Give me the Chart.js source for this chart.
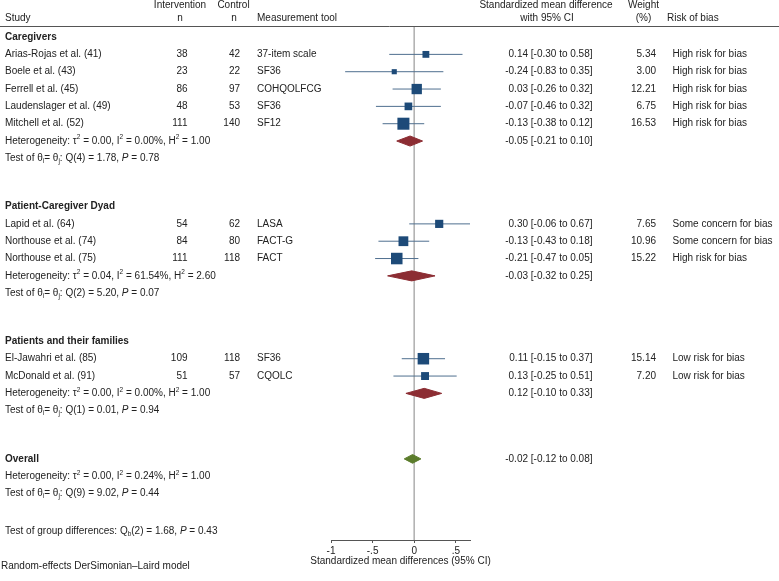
<!DOCTYPE html>
<html lang="en">
<head>
    <meta charset="UTF-8">
    <title>Forest plot - quality of life</title>
    <style>
        body {
            margin: 0;
            background: #fff;
        }
        #box {
            width: 779px;
            height: 581px;
        }
    </style>
    <script src="https://cdn.jsdelivr.net/npm/chart.js@4"></script>
</head>
<body>

<div id="box"><canvas id="forest" width="779" height="581"></canvas></div>

<script>
    // ---- data ----
    const groups = ["Caregivers", "Patient-Caregiver Dyad", "Patients and their families"];

    const studies = [
        "Arias-Rojas et al. (41)", "Boele et al. (43)", "Ferrell et al. (45)", "Laudenslager et al. (49)", "Mitchell et al. (52)",
        "Lapid et al. (64)", "Northouse et al. (74)", "Northouse et al. (75)",
        "El-Jawahri et al. (85)", "McDonald et al. (91)"
    ];
    const studyGroup = [0, 0, 0, 0, 0, 1, 1, 1, 2, 2];
    const nIntervention = [38, 23, 86, 48, 111, 54, 84, 111, 109, 51];
    const nControl = [42, 22, 97, 53, 140, 62, 80, 118, 118, 57];
    const tools = ["37-item scale", "SF36", "COHQOLFCG", "SF36", "SF12", "LASA", "FACT-G", "FACT", "SF36", "CQOLC"];
    const smd = [0.14, -0.24, 0.03, -0.07, -0.13, 0.30, -0.13, -0.21, 0.11, 0.13];
    const ciLow = [-0.30, -0.83, -0.26, -0.46, -0.38, -0.06, -0.43, -0.47, -0.15, -0.25];
    const ciHigh = [0.58, 0.35, 0.32, 0.32, 0.12, 0.67, 0.18, 0.05, 0.37, 0.51];
    const weights = [5.34, 3.00, 12.21, 6.75, 16.53, 7.65, 10.96, 15.22, 15.14, 7.20];
    const bias = [
        "High risk for bias", "High risk for bias", "High risk for bias", "High risk for bias", "High risk for bias",
        "Some concern for bias", "Some concern for bias", "High risk for bias",
        "Low risk for bias", "Low risk for bias"
    ];

    const groupSmd = [-0.05, -0.03, 0.12];
    const groupLow = [-0.21, -0.32, -0.10];
    const groupHigh = [0.10, 0.25, 0.33];
    const groupHet = [
        "Heterogeneity: τ^{2} = 0.00, I^{2} = 0.00%, H^{2} = 1.00",
        "Heterogeneity: τ^{2} = 0.04, I^{2} = 61.54%, H^{2} = 2.60",
        "Heterogeneity: τ^{2} = 0.00, I^{2} = 0.00%, H^{2} = 1.00"
    ];
    const groupTest = [
        "Test of θ_{i}= θ_{j}: Q(4) = 1.78, /P/ = 0.78",
        "Test of θ_{i}= θ_{j}: Q(2) = 5.20, /P/ = 0.07",
        "Test of θ_{i}= θ_{j}: Q(1) = 0.01, /P/ = 0.94"
    ];

    const overall = [-0.02, -0.12, 0.08];   // estimate, low, high
    const overallHet = "Heterogeneity: τ^{2} = 0.00, I^{2} = 0.24%, H^{2} = 1.00";
    const overallTest = "Test of θ_{i}= θ_{j}: Q(9) = 9.02, /P/ = 0.44";
    const groupDiff = "Test of group differences: Q_{b}(2) = 1.68, /P/ = 0.43";

    const xTicks = [-1, -0.5, 0, 0.5];
    const xTickLabels = ["-1", "-.5", "0", ".5"];
    const xTitle = "Standardized mean differences (95% CI)";

    // ---- layout ----
    const FONT = '"Liberation Sans", Arial, Helvetica, sans-serif';
    const TEXT = "#222";
    const GROUP_GAP = 2.78;
    const DIFF_GAP = 2.2;

    // row number of every line, top to bottom
    const groupRow = [], studyRow = [], hetRow = [], testRow = [];
    let r = 0;
    groups.forEach((g, gi) => {
        groupRow.push(r);
        studyGroup.forEach((sg, i) => {
            if (sg === gi) {
                r += 1;
                studyRow[i] = r;
            }
        });
        hetRow.push(r + 1);
        testRow.push(r + 2);
        r += 2 + GROUP_GAP;
    });
    const overallRow = r;
    const diffRow = r + 2 + DIFF_GAP;

    const Y_MIN = -0.58;
    const Y_MAX = diffRow + 0.48;

    const fmt = v => v.toFixed(2);
    const ciText = (e, lo, hi) => `${fmt(e)} [${fmt(lo)} to ${fmt(hi)}]`;

    // small markup: ^{..} superscript, _{..} subscript, /../ italic
    function splitRich(str) {
        const parts = [];
        const re = /\^\{([^}]*)\}|_\{([^}]*)\}|\/([^\/]*)\//g;
        let last = 0, m;
        while ((m = re.exec(str)) !== null) {
            if (m.index > last) parts.push({ t: str.slice(last, m.index), k: "n" });
            if (m[1] !== undefined) parts.push({ t: m[1], k: "sup" });
            else if (m[2] !== undefined) parts.push({ t: m[2], k: "sub" });
            else parts.push({ t: m[3], k: "it" });
            last = re.lastIndex;
        }
        if (last < str.length) parts.push({ t: str.slice(last), k: "n" });
        return parts;
    }

    function fontFor(k, bold) {
        if (k === "sup" || k === "sub") return "6.5px " + FONT;
        if (k === "it") return "italic 10px " + FONT;
        return (bold ? "bold " : "") + "10px " + FONT;
    }

    function drawText(ctx, str, x, y, align, bold) {
        const parts = splitRich(String(str));
        let w = 0;
        parts.forEach(p => {
            ctx.font = fontFor(p.k, bold);
            p.w = ctx.measureText(p.t).width;
            w += p.w;
        });
        if (align === "right") x -= w;
        else if (align === "center") x -= w / 2;
        ctx.textAlign = "left";
        ctx.textBaseline = "middle";
        parts.forEach(p => {
            ctx.font = fontFor(p.k, bold);
            let dy = 0;
            if (p.k === "sup") dy = -3.5;
            if (p.k === "sub") dy = 2.5;
            ctx.fillText(p.t, x, y + dy);
            x += p.w;
        });
    }

    const textPlugin = {
        id: "forestText",
        afterDraw(chart) {
            const ctx = chart.ctx;
            const py = v => chart.scales.y.getPixelForValue(v);
            const area = chart.chartArea;
            ctx.save();
            ctx.fillStyle = TEXT;

            // column headers
            drawText(ctx, "Intervention", 180, 5, "center");
            drawText(ctx, "Control", 233.5, 5, "center");
            drawText(ctx, "Standardized mean difference", 546, 5, "center");
            drawText(ctx, "Weight", 643.5, 5, "center");
            drawText(ctx, "Study", 5, 18.5, "left");
            drawText(ctx, "n", 180, 18.5, "center");
            drawText(ctx, "n", 234, 18.5, "center");
            drawText(ctx, "Measurement tool", 257, 18.5, "left");
            drawText(ctx, "with 95% CI", 547, 18.5, "center");
            drawText(ctx, "(%)", 643.5, 18.5, "center");
            drawText(ctx, "Risk of bias", 667, 18.5, "left");

            ctx.strokeStyle = "#555";
            ctx.lineWidth = 1;
            ctx.beginPath();
            ctx.moveTo(0, 26.5);
            ctx.lineTo(chart.width, 26.5);
            ctx.stroke();

            groups.forEach((g, gi) => {
                drawText(ctx, g, 5, py(groupRow[gi]), "left", true);
                drawText(ctx, groupHet[gi], 5, py(hetRow[gi]), "left");
                drawText(ctx, groupTest[gi], 5, py(testRow[gi]), "left");
                drawText(ctx, ciText(groupSmd[gi], groupLow[gi], groupHigh[gi]), 592.5, py(hetRow[gi]), "right");
            });

            studies.forEach((s, i) => {
                const y = py(studyRow[i]);
                drawText(ctx, s, 5, y, "left");
                drawText(ctx, nIntervention[i], 187.5, y, "right");
                drawText(ctx, nControl[i], 240, y, "right");
                drawText(ctx, tools[i], 257, y, "left");
                drawText(ctx, ciText(smd[i], ciLow[i], ciHigh[i]), 592.5, y, "right");
                drawText(ctx, fmt(weights[i]), 656, y, "right");
                drawText(ctx, bias[i], 672.5, y, "left");
            });

            drawText(ctx, "Overall", 5, py(overallRow), "left", true);
            drawText(ctx, overallHet, 5, py(overallRow + 1), "left");
            drawText(ctx, overallTest, 5, py(overallRow + 2), "left");
            drawText(ctx, ciText(overall[0], overall[1], overall[2]), 592.5, py(overallRow), "right");
            drawText(ctx, groupDiff, 5, py(diffRow), "left");

            // axis title, centred under the axis without squeezing
            drawText(ctx, xTitle, (area.left + area.right) / 2, area.bottom + 21, "center");

            drawText(ctx, "Random-effects DerSimonian–Laird model", 1, 566, "left");
            ctx.restore();
        }
    };

    function diamond(est, lo, hi, y, half, color) {
        return {
            data: [{ x: lo, y: y }, { x: est, y: y - half }, { x: hi, y: y }, { x: est, y: y + half }, { x: lo, y: y }],
            showLine: true,
            fill: "shape",
            backgroundColor: color,
            borderColor: color,
            borderWidth: 1,
            pointRadius: 0,
            order: 2
        };
    }

    const datasets = [];
    // line of no effect
    datasets.push({
        data: [{ x: 0, y: Y_MIN }, { x: 0, y: Y_MAX }],
        showLine: true,
        borderColor: "#b3b3b3",
        borderWidth: 1,
        pointRadius: 0,
        order: 10
    });
    // confidence intervals
    studies.forEach((s, i) => {
        datasets.push({
            data: [{ x: ciLow[i], y: studyRow[i] }, { x: ciHigh[i], y: studyRow[i] }],
            showLine: true,
            borderColor: "#4f6f8f",
            borderWidth: 1,
            pointRadius: 0,
            order: 5
        });
    });
    // study estimates, box area ~ weight
    datasets.push({
        data: smd.map((v, i) => ({ x: v, y: studyRow[i] })),
        pointStyle: "rect",
        pointRadius: weights.map(w => 2.09 * Math.sqrt(w)),
        backgroundColor: "#1d4a78",
        borderWidth: 0,
        order: 1
    });
    groups.forEach((g, gi) => {
        datasets.push(diamond(groupSmd[gi], groupLow[gi], groupHigh[gi], hetRow[gi], 0.29, "#8c2d33"));
    });
    datasets.push(diamond(overall[0], overall[1], overall[2], overallRow, 0.25, "#5b7c2c"));

    new Chart(document.getElementById("forest"), {
        type: "scatter",
        data: { datasets: datasets },
        options: {
            responsive: false,
            animation: false,
            events: [],
            layout: { padding: { left: 331, right: 309, top: 27, bottom: 0 } },
            plugins: {
                legend: { display: false },
                tooltip: { enabled: false }
            },
            scales: {
                x: {
                    type: "linear",
                    min: -1,
                    max: 0.67,
                    afterBuildTicks: s => { s.ticks = xTicks.map(v => ({ value: v })); },
                    afterFit: s => { s.height = 41; },
                    ticks: {
                        callback: (v, i) => xTickLabels[i],
                        color: TEXT,
                        font: { family: FONT, size: 10 },
                        padding: 2,
                        maxRotation: 0,
                        autoSkip: false
                    },
                    grid: { drawOnChartArea: false, drawTicks: true, tickLength: 3, color: "#555" },
                    border: { display: true, color: "#555" },
                    title: { display: false }
                },
                y: {
                    type: "linear",
                    min: Y_MIN,
                    max: Y_MAX,
                    reverse: true,
                    display: false
                }
            }
        },
        plugins: [textPlugin]
    });
</script>

</body>
</html>
